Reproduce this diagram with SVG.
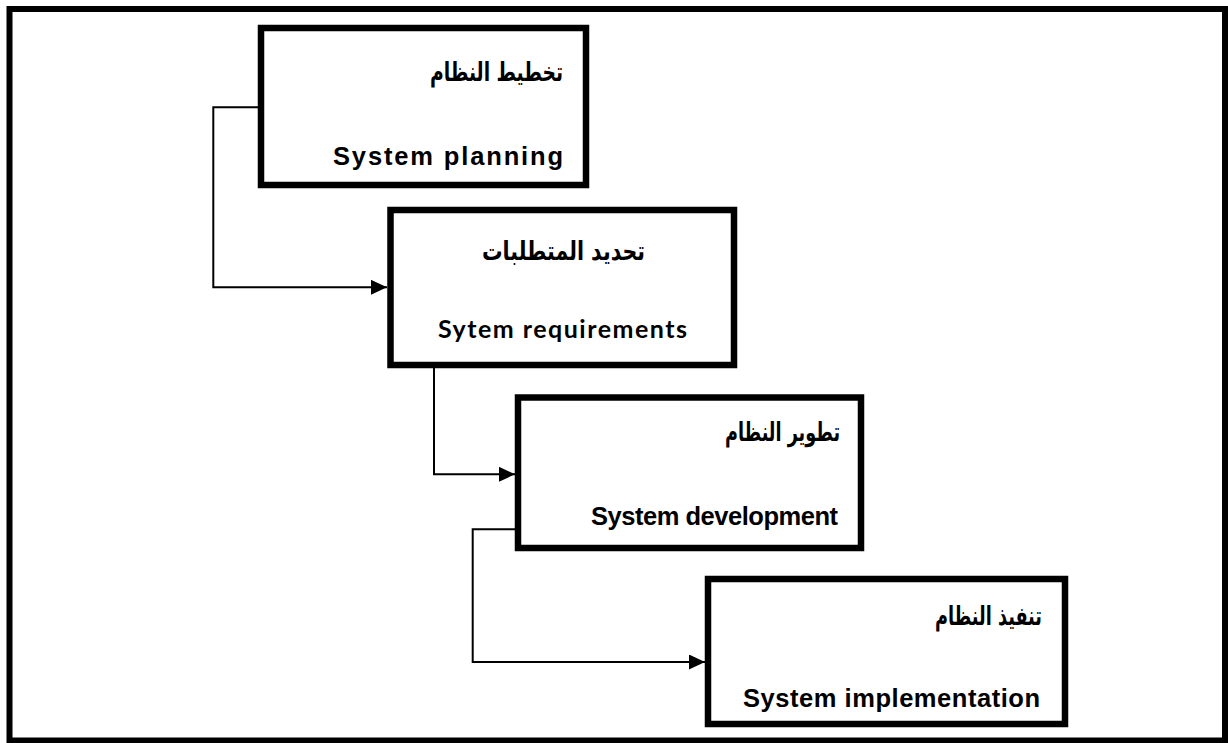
<svg xmlns="http://www.w3.org/2000/svg" width="1228" height="743" viewBox="0 0 1228 743">
<style>
.frame{fill:#fff;stroke:#000;stroke-width:6}
.box{fill:#fff;stroke:#000;stroke-width:6.5}
.conn{fill:none;stroke:#000;stroke-width:2}
.ar{font-family:"DejaVu Sans","Liberation Sans",sans-serif;font-weight:bold;font-size:26px;fill:#000}
.en{font-family:"Liberation Sans",Arial,sans-serif;font-weight:bold;font-size:25.5px;fill:#000}
.cal{font-family:Lato,"Open Sans",sans-serif;font-weight:bold;font-size:25px;fill:#000}
</style>
<defs>
<marker id="arrow" viewBox="0 0 16 15" refX="16" refY="7.5" markerWidth="16" markerHeight="15" markerUnits="userSpaceOnUse" orient="auto">
<path d="M0,0 L16,7.5 L0,15 z" fill="#000"/>
</marker>
</defs>
<rect class="frame" x="9.5" y="9" width="1215.5" height="731.5"/>
<g id="connectors">
<path class="conn" d="M264 107.3 H213.3 V287.3 H387" marker-end="url(#arrow)"/>
<path class="conn" d="M434 368 V474.3 H515" marker-end="url(#arrow)"/>
<path class="conn" d="M515 529.3 H472.7 V662 H705" marker-end="url(#arrow)"/>
</g>
<g id="node1">
<rect class="box" x="261" y="28" width="325" height="157"/>
<text class="ar" x="563" y="81" text-anchor="end" textLength="133" lengthAdjust="spacingAndGlyphs">تخطيط النظام</text>
<text class="en" x="563" y="165" text-anchor="end" textLength="230">System planning</text>
</g>
<g id="node2">
<rect class="box" x="390.5" y="210" width="343.5" height="155"/>
<text class="ar" x="645" y="260" text-anchor="end" textLength="163" lengthAdjust="spacingAndGlyphs">تحديد المتطلبات</text>
<text class="cal" x="438" y="338" textLength="249">Sytem requirements</text>
</g>
<g id="node3">
<rect class="box" x="518" y="397.5" width="343" height="150.5"/>
<text class="ar" x="840" y="441" text-anchor="end" textLength="115" lengthAdjust="spacingAndGlyphs">تطوير النظام</text>
<text class="en" x="838" y="525" text-anchor="end" textLength="247">System development</text>
</g>
<g id="node4">
<rect class="box" x="708" y="579" width="357" height="145"/>
<text class="ar" x="1042" y="625" text-anchor="end" textLength="107" lengthAdjust="spacingAndGlyphs">تنفيذ النظام</text>
<text class="en" x="1040" y="707" text-anchor="end" textLength="297">System implementation</text>
</g>
</svg>
